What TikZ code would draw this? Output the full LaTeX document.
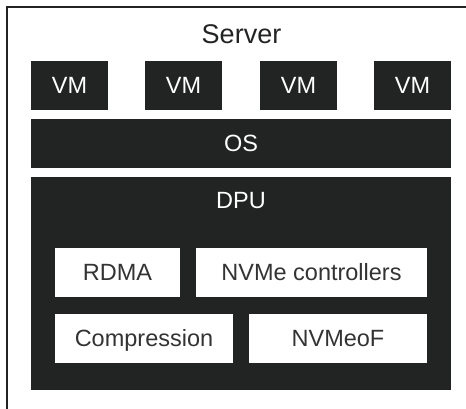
\documentclass[tikz,border=0pt]{standalone}
\usepackage{fontspec}
\setmainfont{Liberation Sans}
\definecolor{ink}{RGB}{34,35,35}
\definecolor{labelgray}{RGB}{51,51,51}
\tikzset{
  x=1pt, y=-1pt,
  darkbox/.style={fill=ink, draw=none, inner sep=0pt, text=white,
    font=\fontsize{23.5}{28}\selectfont, text height=16.8pt, text depth=0pt},
  lightbox/.style={fill=white, draw=none, inner sep=0pt, text=labelgray,
    font=\fontsize{23.5}{28}\selectfont, text height=16.8pt, text depth=0pt,
    minimum height=49pt},
  vmbox/.style={darkbox, minimum width=77pt, minimum height=49pt},
}
\begin{document}
\begin{tikzpicture}
\useasboundingbox (0,0) rectangle (466,409);
% server frame (runs past the right and bottom edges)
\draw[line width=2pt, ink] (7,420) -- (7,7) -- (480,7);
\node[anchor=base, text=ink, font=\fontsize{27}{32}\selectfont] (server) at (241.5,44) {Server};
% virtual machines
\node[vmbox] (vm1) at (69.5,85.5) {VM};
\node[vmbox] (vm2) at (183.5,85.5) {VM};
\node[vmbox] (vm3) at (298.5,85.5) {VM};
\node[vmbox] (vm4) at (412.5,85.5) {VM};
% operating system
\node[darkbox, minimum width=420pt, minimum height=49pt] (os) at (241,143.5) {OS};
% DPU block with its offload engines
\node[darkbox, minimum width=420pt, minimum height=213pt] (dpu) at (241,283.5) {};
\node[text=white, font=\fontsize{23.5}{28}\selectfont, inner sep=0pt,
  text height=16.8pt, text depth=0pt] (dpulabel) at (241,200) {DPU};
\node[lightbox, minimum width=125pt] (rdma) at (117.5,272.5) {RDMA};
\node[lightbox, minimum width=231pt] (nvme) at (311.5,272.5) {NVMe controllers};
\node[lightbox, minimum width=178pt] (comp) at (144,338.5) {Compression};
\node[lightbox, minimum width=178pt] (nvmeof) at (338,338.5) {NVMeoF};
\end{tikzpicture}
\end{document}
